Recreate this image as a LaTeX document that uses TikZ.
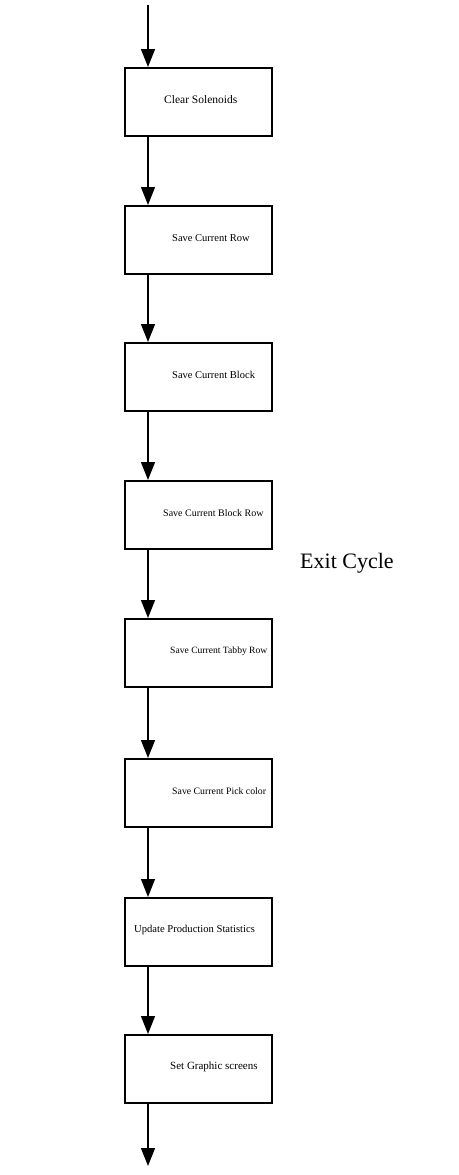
\documentclass[tikz,border=0pt]{standalone}
\usepackage{fontspec}
\setmainfont{Liberation Serif}
\usetikzlibrary{arrows.meta}
\newcommand{\fs}[1]{\fontsize{#1}{#1}\selectfont}
\begin{document}
\begin{tikzpicture}[x=1pt,y=-1pt,
  stepbox/.style={draw,line width=1.7pt,minimum width=147pt,minimum height=68pt,inner sep=0pt,anchor=north west},
  steptext/.style={anchor=west,inner sep=0pt},
  flow/.style={line width=1.4pt,-{Triangle[width=14pt,length=18pt]}}]
\useasboundingbox (0,0) rectangle (458,1175);
% process boxes, top to bottom
\node[stepbox] (b1) at (124,67) {};
\node[stepbox] (b2) at (124,205) {};
\node[stepbox] (b3) at (124,342) {};
\node[stepbox] (b4) at (124,480) {};
\node[stepbox] (b5) at (124,618) {};
\node[stepbox] (b6) at (124,758) {};
\node[stepbox] (b7) at (124,897) {};
\node[stepbox] (b8) at (124,1034) {};
% labels inside the boxes
\node[steptext] (t1) at (164,100) {\fs{11.5}Clear Solenoids};
\node[steptext] (t2) at (172,238) {\fs{10.5}Save Current Row};
\node[steptext] (t3) at (172,375) {\fs{10.5}Save Current Block};
\node[steptext] (t4) at (163,513) {\fs{10}Save Current Block Row};
\node[steptext] (t5) at (170,651) {\fs{9.6}Save Current Tabby Row};
\node[steptext] (t6) at (172,791) {\fs{9.8}Save Current Pick color};
\node[steptext] (t7) at (134,930) {\fs{10.6}Update Production Statistics};
\node[steptext] (t8) at (170,1067) {\fs{11}Set Graphic screens};
\node[steptext] (exit) at (300,563) {\fs{22}Exit Cycle};
% connectors
\coordinate (in) at (148,5);
\coordinate (out) at (148,1166);
\draw[flow] (in) -- (in |- b1.north);
\foreach \a/\b in {b1/b2,b2/b3,b3/b4,b4/b5,b5/b6,b6/b7,b7/b8}
  \draw[flow] (in |- \a.south) -- (in |- \b.north);
\draw[flow] (in |- b8.south) -- (out);
\end{tikzpicture}
\end{document}
